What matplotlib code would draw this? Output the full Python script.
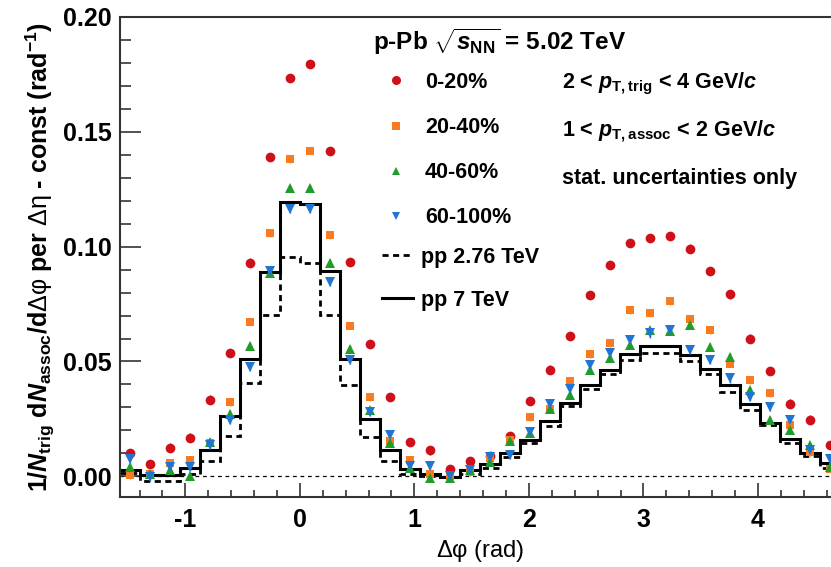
import numpy as np
import matplotlib
matplotlib.use("Agg")
import matplotlib.pyplot as plt
from matplotlib.ticker import MultipleLocator, FormatStrFormatter
from matplotlib.lines import Line2D

plt.rcParams["font.family"] = ["Liberation Sans", "DejaVu Sans"]
plt.rcParams["font.weight"] = "bold"
plt.rcParams["axes.labelweight"] = "bold"
plt.rcParams["axes.unicode_minus"] = False
plt.rcParams["mathtext.fontset"] = "custom"
plt.rcParams["mathtext.rm"] = "Liberation Sans:bold"
plt.rcParams["mathtext.it"] = "Liberation Sans:italic:bold"
plt.rcParams["mathtext.bf"] = "Liberation Sans:bold"
plt.rcParams["mathtext.sf"] = "Liberation Sans:regular"

# 36 bins in delta-phi from -pi/2 to 3pi/2
n_bins = 36
phi_lo, phi_hi = -np.pi / 2, 3 * np.pi / 2

# per-trigger yields, p-Pb centrality classes
y_0_20 = [0.0102, 0.0055, 0.0125, 0.0169, 0.0334, 0.0537, 0.0931, 0.1389, 0.1733,
          0.1795, 0.1417, 0.0934, 0.0575, 0.0345, 0.0151, 0.0113, 0.0030, 0.0067,
          0.0090, 0.0175, 0.0328, 0.0465, 0.0611, 0.0789, 0.0919, 0.1017, 0.1039,
          0.1047, 0.0992, 0.0893, 0.0792, 0.0600, 0.0459, 0.0317, 0.0247, 0.0138]
y_20_40 = [0.0004, 0.0009, 0.0058, 0.0070, 0.0145, 0.0324, 0.0673, 0.1060, 0.1380,
           0.1418, 0.1050, 0.0656, 0.0346, 0.0153, 0.0073, 0.0012, 0.0000, 0.0019,
           0.0081, 0.0157, 0.0258, 0.0295, 0.0415, 0.0532, 0.0581, 0.0723, 0.0709,
           0.0764, 0.0683, 0.0636, 0.0491, 0.0418, 0.0363, 0.0222, 0.0106, 0.0034]
y_40_60 = [0.0041, 0.0012, 0.0026, 0.0001, 0.0149, 0.0273, 0.0568, 0.0886, 0.1254,
           0.1254, 0.0931, 0.0556, 0.0288, 0.0147, 0.0038, -0.0006, -0.0006, 0.0026,
           0.0062, 0.0153, 0.0189, 0.0295, 0.0353, 0.0462, 0.0516, 0.0571, 0.0636,
           0.0632, 0.0658, 0.0563, 0.0520, 0.0375, 0.0247, 0.0203, 0.0135, 0.0041]
y_60_100 = [0.0077, -0.0003, 0.0041, 0.0041, 0.0135, 0.0244, 0.0476, 0.0893, 0.1166,
            0.1166, 0.0847, 0.0505, 0.0280, 0.0179, 0.0044, 0.0044, 0.0000, 0.0026,
            0.0084, 0.0092, 0.0193, 0.0317, 0.0382, 0.0484, 0.0535, 0.0593, 0.0622,
            0.0636, 0.0549, 0.0508, 0.0426, 0.0346, 0.0302, 0.0247, 0.0116, 0.0077]

# statistical uncertainty per class
stat_err = [0.0018, 0.0016, 0.0016, 0.0018]

# pp reference histograms
pp_7 = [0.0026, 0.0004, 0.0004, 0.0038, 0.0113, 0.0261, 0.0513, 0.0890, 0.1193,
        0.1185, 0.0895, 0.0513, 0.0250, 0.0113, 0.0034, 0.0009, -0.0003, 0.0026,
        0.0052, 0.0102, 0.0158, 0.0240, 0.0319, 0.0397, 0.0465, 0.0532, 0.0566,
        0.0566, 0.0530, 0.0469, 0.0397, 0.0314, 0.0232, 0.0164, 0.0102, 0.0058]
pp_276 = [0.0013, -0.0020, -0.0020, 0.0009, 0.0065, 0.0174, 0.0405, 0.0703, 0.0953,
          0.0931, 0.0702, 0.0397, 0.0170, 0.0068, 0.0009, 0.0003, -0.0005, 0.0010,
          0.0035, 0.0084, 0.0147, 0.0218, 0.0305, 0.0379, 0.0447, 0.0508, 0.0537,
          0.0536, 0.0502, 0.0447, 0.0367, 0.0290, 0.0222, 0.0145, 0.0087, 0.0038]

labels = ["0-20%", "20-40%", "40-60%", "60-100%"]
colors = ["#cf1019", "#f97b1f", "#1f9c2a", "#1f74d4"]
markers = ["o", "s", "^", "v"]
msizes = [7.0, 6.2, 6.8, 6.8]

edges = np.linspace(phi_lo, phi_hi, n_bins + 1)
centers = 0.5 * (edges[:-1] + edges[1:])

W, H = 831, 567
fig = plt.figure(figsize=(W / 100, H / 100), dpi=100)
ax = fig.add_axes([120 / W, 1 - 497 / H, 719.5 / W, 480 / H])

ax.axhline(0.0, color="black", lw=0.9, ls=(0, (3, 3)), zorder=1)
ax.stairs(pp_276, edges, baseline=None, color="black", lw=2.0, ls=(0, (2.2, 1.6)), zorder=2)
ax.stairs(pp_7, edges, baseline=None, color="black", lw=2.2, zorder=2)

series = [y_0_20, y_20_40, y_40_60, y_60_100]
handles = []
for vals, lab, col, mk, ms, err in zip(series, labels, colors, markers, msizes, stat_err):
    ax.errorbar(centers, vals, yerr=err, fmt="none", ecolor=col, elinewidth=1.0, zorder=3)
    ax.plot(centers, vals, ls="none", marker=mk, ms=ms, color=col,
            markeredgewidth=0, zorder=4, label=lab)
    handles.append(Line2D([], [], ls="none", marker=mk, ms=ms - 0.5, color=col, markeredgewidth=0))

ax.set_xlim(phi_lo, phi_hi)
ax.set_ylim(-0.009, 0.20)

ax.xaxis.set_major_locator(MultipleLocator(1))
ax.xaxis.set_minor_locator(MultipleLocator(0.2))
ax.yaxis.set_major_locator(MultipleLocator(0.05))
ax.yaxis.set_minor_locator(MultipleLocator(0.01))
ax.yaxis.set_major_formatter(FormatStrFormatter("%.2f"))
ax.xaxis.set_major_formatter(FormatStrFormatter("%d"))

ax.tick_params(axis="both", which="both", direction="in", color="#333333", width=1.2)
ax.tick_params(axis="y", which="major", length=15, pad=6, labelsize=18)
ax.tick_params(axis="y", which="minor", length=8)
ax.tick_params(axis="x", which="major", length=10, pad=8, labelsize=18)
ax.tick_params(axis="x", which="minor", length=5)
for s in ax.spines.values():
    s.set_color("#333333")
    s.set_linewidth(1.5)

ax.set_xlabel(r"$\mathsf{\Delta\varphi}$ (rad)", fontsize=17, fontweight="normal", labelpad=4)
ax.set_ylabel(r"1/$N_{\rm trig}$ d$N_{\rm assoc}$/d$\mathsf{\Delta\varphi}$ per "
              r"$\mathsf{\Delta\eta}$ - const (rad$^{-1}$)",
              fontsize=18, labelpad=4)

fig.text(373 / W, 1 - 50 / H, r"p-Pb $\sqrt{s_{\rm NN}}$ = 5.02 TeV", fontsize=17.5,
         ha="left", va="baseline")

leg1 = ax.legend(handles, labels, loc="upper left", bbox_to_anchor=(383 / W, 1 - 72 / H),
                 bbox_transform=fig.transFigure, frameon=False, fontsize=15.5,
                 handlelength=1.2, handletextpad=0.75, labelspacing=1.12, borderpad=0,
                 borderaxespad=0)
ax.add_artist(leg1)
line_handles = [Line2D([], [], color="black", lw=2.0, ls=(0, (2.2, 1.6))),
                Line2D([], [], color="black", lw=2.2)]
ax.legend(line_handles, ["pp 2.76 TeV", "pp 7 TeV"], loc="upper left",
          bbox_to_anchor=(382 / W, 1 - 247 / H), bbox_transform=fig.transFigure,
          frameon=False, fontsize=15.5, handlelength=1.45, handletextpad=0.35,
          labelspacing=1.0, borderpad=0, borderaxespad=0)

fig.text(562 / W, 1 - 88 / H, r"2 < $p_{\rm T,trig}$ < 4 GeV/$c$", fontsize=15.5, ha="left", va="baseline")
fig.text(562 / W, 1 - 136 / H, r"1 < $p_{\rm T,assoc}$ < 2 GeV/$c$", fontsize=15.5, ha="left", va="baseline")
fig.text(562 / W, 1 - 184 / H, "stat. uncertainties only", fontsize=15.5, ha="left", va="baseline")

fig.savefig("out.png", dpi=100)
